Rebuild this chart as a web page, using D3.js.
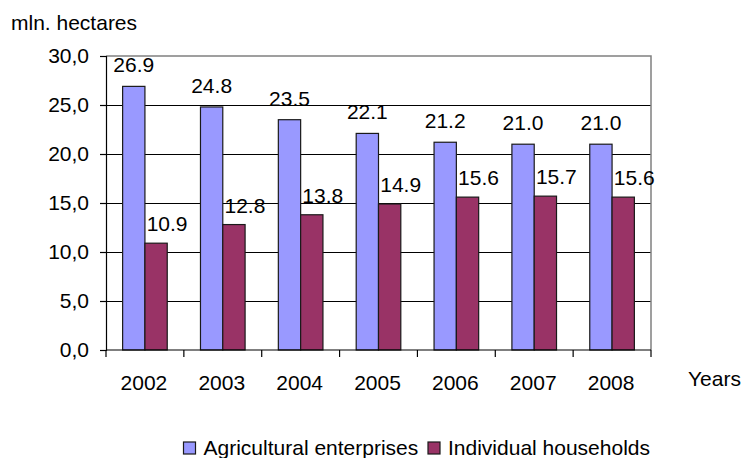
<!DOCTYPE html>
<html>
<head>
<meta charset="utf-8">
<script src="https://cdn.jsdelivr.net/npm/d3@7"></script>
<style>
  html, body { margin: 0; padding: 0; background: #fff; }
  svg { display: block; font-family: "Liberation Sans", Arial, sans-serif; }
</style>
</head>
<body>
<svg id="chart" width="742" height="458"></svg>
<script>
// Land use by farm type, million hectares
const years = ["2002", "2003", "2004", "2005", "2006", "2007", "2008"];
const agricultural = [26.9, 24.8, 23.5, 22.1, 21.2, 21.0, 21.0];
const households = [10.9, 12.8, 13.8, 14.9, 15.6, 15.7, 15.6];
const seriesNames = ["Agricultural enterprises", "Individual households"];
const yTicks = [0, 5, 10, 15, 20, 25, 30];

const colors = ["#9999FF", "#993366"];
const fontSize = 21;

const svg = d3.select("#chart");
const plot = { left: 106, right: 651, top: 56, bottom: 350 };

const x = d3.scaleBand().domain(years).range([plot.left, plot.right]).paddingInner(0).paddingOuter(0);
const y = d3.scaleLinear().domain([0, 30]).range([plot.bottom, plot.top]);
const groupWidth = x.bandwidth() * 0.573;
const xs = d3.scaleBand().domain([0, 1]).range([0, groupWidth]);
const groupOffset = (x.bandwidth() - groupWidth) / 2;

// horizontal gridlines
svg.append("g")
  .selectAll("line")
  .data(yTicks.filter(t => t > 0 && t < 30))
  .join("line")
  .attr("x1", plot.left).attr("x2", plot.right)
  .attr("y1", d => y(d)).attr("y2", d => y(d))
  .attr("stroke", "#000").attr("stroke-width", 1)
  .attr("shape-rendering", "crispEdges");

// top and right frame
svg.append("path")
  .attr("d", `M${plot.left},${y(30)}H${plot.right}V${plot.bottom}`)
  .attr("fill", "none").attr("stroke", "#808080").attr("stroke-width", 1.5);

// bars
const series = [agricultural, households];
series.forEach((vals, si) => {
  svg.append("g")
    .selectAll("rect")
    .data(vals)
    .join("rect")
    .attr("x", (d, i) => x(years[i]) + groupOffset + xs(si))
    .attr("y", d => y(d))
    .attr("width", xs.bandwidth())
    .attr("height", d => y(0) - y(d))
    .attr("fill", colors[si])
    .attr("stroke", "#1a1a1a")
    .attr("stroke-width", 1.2);
});

// value labels
series.forEach((vals, si) => {
  svg.append("g")
    .selectAll("text")
    .data(vals)
    .join("text")
    .attr("x", (d, i) => x(years[i]) + groupOffset + xs(si) + xs.bandwidth() / 2 + (si === 1 ? 11 : 0))
    .attr("y", d => y(d) - (si === 1 ? 12 : 14))
    .attr("text-anchor", "middle")
    .attr("font-size", fontSize)
    .attr("fill", "#000")
    .text(d => d.toFixed(1));
});

// y axis
const yAxis = d3.axisLeft(y)
  .tickValues(yTicks)
  .tickSize(6)
  .tickPadding(11)
  .tickFormat(d => d3.format(".1f")(d).replace(".", ","));
const gy = svg.append("g").attr("transform", `translate(${plot.left},0)`).call(yAxis);
gy.select(".domain").attr("stroke", "#000").attr("stroke-width", 1.2);
gy.selectAll(".tick line").attr("stroke", "#000").attr("stroke-width", 1.2);
gy.selectAll(".tick text").attr("font-size", fontSize).attr("font-family", "Liberation Sans, Arial, sans-serif").attr("fill", "#000");

// x axis: ticks on category boundaries
const gx = svg.append("g");
gx.append("line")
  .attr("x1", plot.left).attr("x2", plot.right)
  .attr("y1", plot.bottom).attr("y2", plot.bottom)
  .attr("stroke", "#000").attr("stroke-width", 1.2);
gx.selectAll("line.tk")
  .data(years.map(d => x(d)).concat([plot.right]))
  .join("line").attr("class", "tk")
  .attr("x1", d => d).attr("x2", d => d)
  .attr("y1", plot.bottom).attr("y2", plot.bottom + 7)
  .attr("stroke", "#000").attr("stroke-width", 1.2);
gx.selectAll("text")
  .data(years)
  .join("text")
  .attr("x", d => x(d) + x.bandwidth() / 2 - 1)
  .attr("y", 390)
  .attr("text-anchor", "middle")
  .attr("font-size", fontSize)
  .text(d => d);

// axis titles
svg.append("text").attr("x", 11).attr("y", 30).attr("font-size", fontSize).text("mln. hectares");
svg.append("text").attr("x", 688).attr("y", 386).attr("font-size", fontSize).text("Years");

// legend
const legend = svg.append("g");
const legendX = [183.5, 428];
seriesNames.forEach((name, i) => {
  legend.append("rect")
    .attr("x", legendX[i]).attr("y", 442)
    .attr("width", 12).attr("height", 12)
    .attr("fill", colors[i]).attr("stroke", "#1a1a1a").attr("stroke-width", 1.2);
  legend.append("text")
    .attr("x", legendX[i] + 20).attr("y", 455)
    .attr("font-size", fontSize)
    .text(name);
});
</script>
</body>
</html>
